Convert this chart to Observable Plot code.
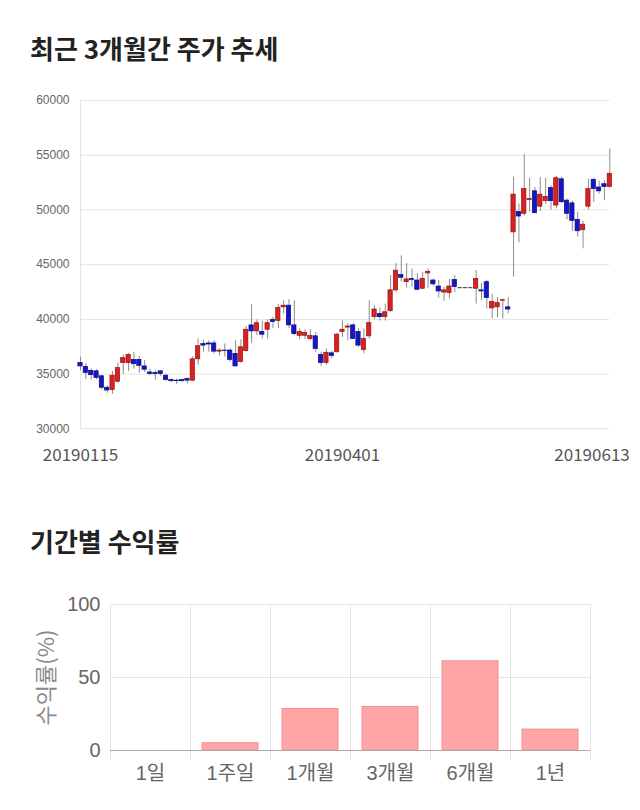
<!DOCTYPE html>
<html>
<head>
<meta charset="utf-8">
<script src="https://cdn.jsdelivr.net/npm/d3@7"></script>
<script src="https://cdn.jsdelivr.net/npm/@observablehq/plot@0.6"></script>
<style>
  body { margin: 0; background: #fff; }
  #wrap { position: relative; width: 640px; height: 810px; overflow: hidden; font-family: "Noto Sans CJK KR", sans-serif; }
  .title { position: absolute; left: 30px; margin: 0; font-size: 26px; font-weight: 700; color: #222; line-height: 30px; }
  #t1 { top: 33px; }
  #t2 { top: 526px; }
  #c1 { position: absolute; left: 0; top: 80px; }
  #c2 { position: absolute; left: 0; top: 580px; }
</style>
</head>
<body>
<div id="wrap">
  <h2 class="title" id="t1">최근 3개월간 주가 추세</h2>
  <div id="c1"></div>
  <h2 class="title" id="t2">기간별 수익률</h2>
  <div id="c2"></div>
</div>
<script>
// ---- Candlestick data (daily, 20190115 .. 20190613) ----
const open = [36000,35650,35300,35250,34800,33750,33550,34300,36000,36000,
  36300,36300,35700,35150,35100,35250,34850,34450,34400,34450,
  34550,34400,36350,37750,37800,37800,37050,37150,37150,36850,
  36100,37100,39450,38900,38850,39050,39950,39850,41100,41250,
  39450,38500,38500,38200,38450,36750,36000,36900,37000,38850,
  39250,39450,38850,37200,38450,40200,40500,40200,40750,42650,
  44050,43400,43700,43550,42800,44200,43550,43000,42450,42400,
  43600,42900,42900,42900,42800,42650,43400,41000,41100,41700,
  41100,47950,49800,49650,50900,51700,50300,50800,52000,50400,
  52800,50850,50600,49100,48150,50300,52750,52050,52350,52100];
const high = [36550,35950,35450,35400,34850,33950,35250,36000,36750,36900,
  37000,36600,36250,35450,35300,35300,35000,34550,34550,34550,
  34650,36600,38200,38100,38050,38050,37300,37750,37300,38050,
  38150,39350,41350,39950,39850,39950,40200,41350,41700,41800,
  41700,39150,39050,39050,38800,37000,37300,37100,38750,39850,
  39600,39600,39150,39150,41700,41250,41050,41400,44000,45100,
  45800,45100,44600,44200,44300,44600,43700,43550,42950,43650,
  44000,42900,42900,42900,44450,43300,43550,42300,42000,41850,
  42000,53000,50550,55050,52900,52050,52950,52900,52200,53050,
  53000,51000,50800,49800,48950,52800,52900,52650,52650,55550];
const low = [35300,34500,34450,34500,33550,33250,33150,34150,34950,35250,
  35450,35100,35150,34850,34450,34800,34350,34250,34050,34250,
  34100,34300,35800,37000,37000,36850,36650,36550,36100,35650,
  36000,37000,37800,38500,38200,38200,39150,39150,40500,39150,
  38500,38150,38150,38050,37000,35700,35800,36400,36900,38350,
  38050,38200,37450,36850,38200,39950,39850,39850,40650,42450,
  43400,42850,42950,42650,42700,42800,43000,41950,41650,41850,
  42450,42900,42900,42900,41400,41700,40950,40050,40150,40050,
  40500,43850,47000,49450,49800,49650,49850,50500,50000,50100,
  50600,49100,48050,47500,46450,50000,50700,51450,50850,52000];
const close = [35700,35100,34900,34650,33750,33500,34850,35550,36450,36750,
  35900,35750,35400,35000,35000,35000,34450,34350,34350,34350,
  34400,36350,37550,37600,37700,37050,37150,37100,36300,35700,
  37450,39050,38900,39650,38600,39650,39750,41050,41250,39450,
  38650,38850,38750,38500,37300,36000,36950,36650,38600,39050,
  39350,38200,37600,38200,39650,40900,40200,40650,42650,44450,
  43800,43650,43600,42700,43700,44350,43200,42550,42650,43000,
  42950,42900,42900,42900,43700,42550,41950,41600,41500,41750,
  40900,51400,49400,51900,51000,49700,51400,51200,50800,52900,
  50700,49650,49000,48050,48650,51900,51900,51700,52100,53300];
const yTicks = [30000, 35000, 40000, 45000, 50000, 55000, 60000];
const xTickLabels = ["20190115", "20190401", "20190613"];
const xTickIndex = [0, 49, 99];

// ---- Period return data ----
const periods = ["1일", "1주일", "1개월", "3개월", "6개월", "1년"];
const returns = [0, 5.0, 28.4, 29.8, 61.1, 14.3];
const returnTicks = [0, 50, 100];
const returnDomain = [0, 100];
const returnLabel = "수익률(%)";

// ---- Chart 1: candlesticks ----
const candles = open.map((o, i) => ({i, open: o, high: high[i], low: low[i], close: close[i]}));
const fillOf = d => d.close > d.open ? "#d82222" : d.close < d.open ? "#1616c8" : "#555";
const strokeOf = d => d.close > d.open ? "#9a0e0e" : d.close < d.open ? "#0a0a80" : "#555";
const xDomain = [0, open.length - 1];
const ticksData = xTickIndex.map((idx, k) => ({idx, label: xTickLabels[k]}));

const chart1 = Plot.plot({
  width: 640,
  height: 400,
  marginLeft: 80,
  marginRight: 30.7,
  marginTop: 20,
  marginBottom: 51.7,
  style: {fontFamily: "'Liberation Sans', Arial, sans-serif", fontSize: "12px", color: "#666", background: "#fff"},
  x: {domain: xDomain, axis: null},
  y: {domain: [30000, 60000], ticks: yTicks, tickSize: 0, tickPadding: 11, tickFormat: d3.format("d"), label: null},
  marks: [
    Plot.ruleY(yTicks, {stroke: "#e4e4e4"}),
    Plot.ruleX([xDomain[0]], {stroke: "#e4e4e4"}),
    Plot.ruleX(candles, {x: "i", y1: "low", y2: "high", stroke: "#8c8c8c", strokeWidth: 1}),
    Plot.rect(candles, {x1: d => d.i - 0.4, x2: d => d.i + 0.4, y1: "open", y2: "close", fill: fillOf, stroke: strokeOf, strokeWidth: 0.7}),
    Plot.ruleY(candles.filter(d => d.open === d.close), {x1: d => d.i - 0.4, x2: d => d.i + 0.4, y: "close", stroke: "#555", strokeWidth: 1.2}),
    Plot.text(ticksData.slice(0, -1), {x: "idx", text: "label", frameAnchor: "bottom", dy: 32, fontSize: 17, fill: "#555", fontFamily: "'Noto Sans CJK KR', sans-serif"}),
    Plot.text(ticksData.slice(-1), {x: "idx", text: "label", frameAnchor: "bottom", dy: 32, dx: 20, textAnchor: "end", fontSize: 17, fill: "#555", fontFamily: "'Noto Sans CJK KR', sans-serif"})
  ]
});
document.getElementById("c1").appendChild(chart1);

// ---- Chart 2: period returns ----
const bars = periods.map((p, i) => ({period: p, value: returns[i]}));
const chart2 = Plot.plot({
  width: 640,
  height: 220,
  marginLeft: 110,
  marginRight: 50,
  marginTop: 24,
  marginBottom: 50,
  style: {fontFamily: "'Liberation Sans', 'Noto Sans CJK KR', sans-serif", fontSize: "20px", color: "#666", background: "#fff"},
  x: {domain: periods, paddingInner: 0.3, paddingOuter: 0.15, tickSize: 0, tickPadding: 15, label: null},
  y: {domain: returnDomain, ticks: returnTicks, tickSize: 0, tickPadding: 10, label: null},
  marks: [
    Plot.ruleY(returnTicks.slice(1), {stroke: "#e4e4e4"}),
    Plot.ruleX(periods, {x: d => d, dx: -40, stroke: "#e4e4e4", insetBottom: -10}),
    Plot.ruleX(periods.slice(-1), {x: d => d, dx: 40, stroke: "#e4e4e4", insetBottom: -10}),
    Plot.barY(bars, {x: "period", y: "value", fill: "#ffa5a5", stroke: "#f29090", strokeWidth: 1}),
    Plot.ruleY([0], {stroke: "#a8a8a8"}),
    Plot.text([(returnDomain[0] + returnDomain[1]) / 2], {y: d => d, text: () => returnLabel, frameAnchor: "left", textAnchor: "middle", dx: -64, rotate: -90, fontSize: 22, fill: "#8a8a8a", fontFamily: "'Noto Sans CJK KR', sans-serif"})
  ]
});
document.getElementById("c2").appendChild(chart2);
</script>
</body>
</html>
